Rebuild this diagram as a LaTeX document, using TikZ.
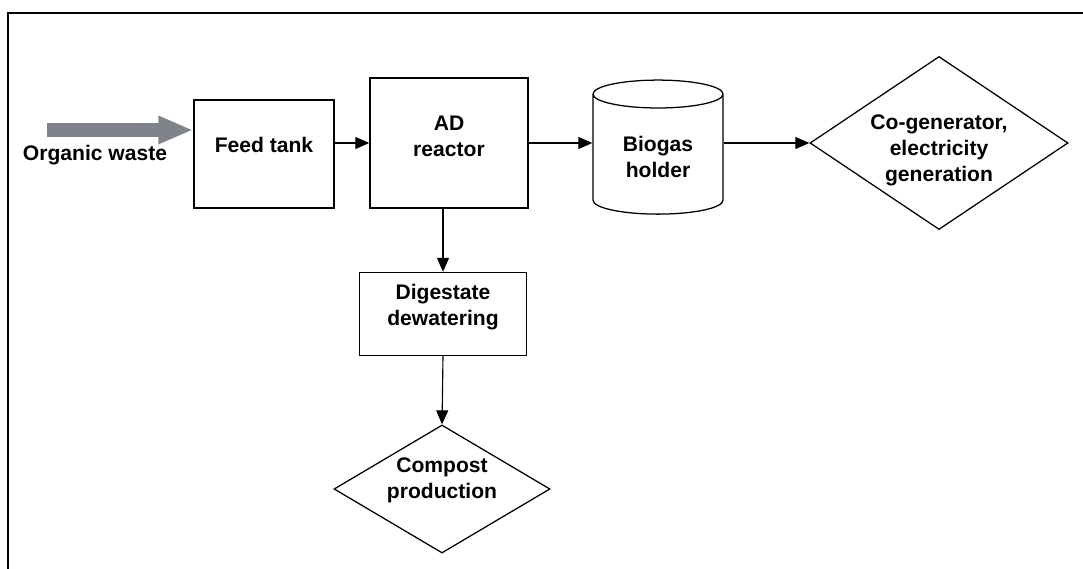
\documentclass[tikz,border=0pt]{standalone}
\usepackage{fontspec}
\setmainfont{Liberation Sans}
\usetikzlibrary{arrows.meta,shapes.geometric}
\definecolor{inletgrey}{RGB}{128,132,138}

\begin{document}
\begin{tikzpicture}[x=0.025cm,y=-0.025cm,
  every node/.style={font=\fontsize{15}{18.5}\selectfont\bfseries,align=center},
  unit/.style={rectangle,draw,line width=1pt,inner sep=0pt},
  choice/.style={diamond,draw,line width=0.9pt,inner sep=0pt},
  flow/.style={line width=0.8pt,-{Triangle[length=0.35cm,width=0.3cm]}}]
\useasboundingbox (0,0) rectangle (1083,569);
\draw[line width=1.4pt] (8,569) -- (8,13) -- (1083,13);
\node [unit,minimum width=3.5cm,minimum height=2.7cm,text depth=0.45cm] (feed) at (264,154) {Feed tank};
\node [unit,minimum width=3.95cm,minimum height=3.25cm,text depth=0.35cm] (ad) at (449,143) {AD\\reactor};
\node [cylinder,draw,line width=0.9pt,shape border rotate=90,aspect=0.35,
  minimum width=3.25cm,minimum height=3.35cm] (gas) at (658,157) {Biogas\\holder};
\node [choice,minimum width=6.45cm,minimum height=4.325cm,
  label={[yshift=-0.18cm]center:{Co-generator,\\electricity\\generation}}] (cogen) at (939,143) {};
\node [unit,minimum width=4.175cm,minimum height=2.075cm,text depth=0.45cm] (dig) at (443,314) {Digestate\\dewatering};
\node [choice,minimum width=5.4cm,minimum height=3.2cm,
  label={[yshift=0.22cm]center:{Compost\\production}}] (compost) at (442,489) {};
\node (waste) at (95,155) {Organic waste};
% inlet arrow
\coordinate (inlet) at (47,130);
\draw[line width=0.35cm,color=inletgrey,
  -{Triangle[length=0.875cm,width=0.65cm]}] (inlet) -- (inlet -| feed.west);
\draw[flow] (ad.west -| feed.east) -- (ad.west);
\draw[flow] (ad.east) -- (ad.east -| gas.west);
\draw[flow] (gas.east |- cogen.west) -- (cogen.west);
\draw[flow] (ad.south -| dig.north) -- (dig.north);
\draw[flow] (dig.south) -- (compost.north);
\end{tikzpicture}
\end{document}
